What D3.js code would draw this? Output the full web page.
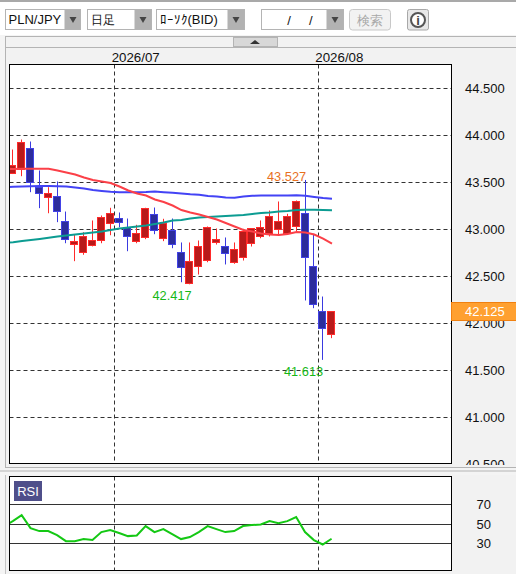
<!DOCTYPE html>
<html><head><meta charset="utf-8">
<script src="https://cdn.jsdelivr.net/npm/d3@7"></script>
<style>html,body{margin:0;padding:0;background:#fff;overflow:hidden}svg{display:block}text{font-family:"Liberation Sans",Arial,sans-serif;white-space:pre}</style>
</head><body><div id="c"></div>
<script>
const pairLabel="PLN/JPY", periodLabel="日足", priceLabel="ﾛｰｿｸ(BID)", dateLabel="/     /", searchLabel="検索";
const monthLabels=["2026/07","2026/08"];
const monthBreaks=[11.5,34.5];
const priceTicks=[44.5,44,43.5,43,42.5,42,41.5,41,40.5];
const rsiTicks=[70,50,30];
const opens =[43.60,43.638,43.859,43.45,43.333,43.351,43.085,42.844,42.748,42.822,42.876,43.056,43.114,43.024,42.869,42.907,43.156,42.907,42.989,42.752,42.417,42.603,42.667,42.854,42.816,42.646,42.699,42.848,42.922,42.957,42.997,42.957,43.029,43.167,42.603,42.124,41.88];
const highs =[43.851,43.957,43.936,43.628,43.45,43.511,43.191,42.947,42.971,43.096,43.149,43.231,43.181,43.117,43.05,43.231,43.234,43.114,43.117,42.862,42.862,42.883,43.032,43.011,42.915,42.862,43.007,43.01,43.096,43.202,43.298,43.167,43.309,43.527,42.954,42.287,42.128];
const lows  =[43.59,43.567,43.397,43.227,43.173,43.078,42.854,42.663,42.731,42.82,42.854,42.939,43.024,42.769,42.854,42.897,42.95,42.876,42.801,42.439,42.417,42.521,42.652,42.84,42.628,42.635,42.67,42.819,42.907,42.926,42.936,42.947,42.979,42.245,42.163,41.613,41.844];
const closes=[43.681,43.922,43.497,43.386,43.38,43.195,42.897,42.872,42.922,42.88,43.124,43.167,43.067,42.929,42.954,43.22,42.986,43.064,42.835,42.588,42.656,42.816,43.018,42.89,42.737,42.784,42.976,43.007,43.018,43.135,43.082,43.135,43.295,42.699,42.199,41.939,42.125];
// moving averages, first value is the session before the first visible candle
const maRed=[43.646,43.644,43.646,43.646,43.646,43.646,43.628,43.606,43.585,43.553,43.527,43.511,43.495,43.457,43.415,43.383,43.362,43.319,43.293,43.255,43.207,43.181,43.160,43.133,43.106,43.069,43.032,42.995,42.979,42.957,42.947,42.941,42.952,42.973,42.968,42.947,42.904,42.851];
const maBlue=[43.452,43.454,43.457,43.460,43.463,43.463,43.460,43.457,43.447,43.436,43.420,43.410,43.401,43.397,43.397,43.397,43.399,43.404,43.397,43.390,43.383,43.374,43.369,43.356,43.351,43.340,43.337,43.351,43.359,43.362,43.362,43.362,43.362,43.365,43.359,43.346,43.335,43.327];
const maTeal=[42.859,42.865,42.878,42.888,42.899,42.912,42.926,42.936,42.947,42.957,42.968,42.979,42.995,43.011,43.021,43.032,43.043,43.059,43.074,43.096,43.101,43.117,43.128,43.133,43.138,43.144,43.149,43.154,43.165,43.176,43.181,43.191,43.197,43.207,43.210,43.210,43.207,43.205];
const rsiValues=[47.7,52.9,59.0,45.8,42.8,42.8,38.7,32.6,32.6,34.7,33.7,41.8,43.8,40.8,37.7,38.3,47.9,41.8,44.8,39.7,34.7,36.7,41.8,47.9,44.8,41.8,42.8,47.9,48.9,49.5,52.9,50.9,52.9,57.0,41.8,33.7,29.2,35.0];
const highLabel="43.527", lowLabel="41.613", swingLabel="42.417", lastLabel="42.125";
const lastPrice=42.125;

const W=516,H=574;
const svg=d3.select("#c").append("svg").attr("width",W).attr("height",H);
const rect=(x,y,w,h,fill,stroke,rx)=>svg.append("rect").attr("x",x).attr("y",y).attr("width",w).attr("height",h).attr("fill",fill||"none").attr("stroke",stroke||"none").attr("rx",rx||0);
const label=(x,y,t,o={})=>svg.append("text").attr("x",x).attr("y",y).attr("dy","0.36em").attr("font-size",o.size||13).attr("fill",o.fill||"#111").attr("text-anchor",o.anchor||"start").attr("font-family",o.family||null).attr("font-weight",o.weight||null).text(t);

// window chrome
rect(0,0,W,H,"#f4f4f4");
rect(0,0,W,2,"#a9a9a9");
rect(0,2,W,33,"#ffffff");
const combo=(x,w,bx,text,family,size)=>{
  rect(x+.5,9.5,w,20,"#fff","#b4b4b4");
  rect(bx+.5,10,x+w-bx-.5,19.5,"#b2b2b2");
  svg.append("path").attr("d",d3.line()([[bx+5.5,17],[bx+12.5,17],[bx+9,23]])+"Z").attr("fill","#444");
  if(text)label(x+3.5,19.7,text,{family,size:size||13});
};
combo(5,75,64,pairLabel);
combo(87,64,134,periodLabel,"Noto Sans CJK JP",12);
combo(156,88,227,priceLabel,"Noto Sans CJK JP",13);
combo(261,82,326,null);
label(300,20,dateLabel,{size:13,anchor:"middle"});
rect(349.5,9.5,41,20.5,"#f2f2f2","#c8c8c8",3);
label(370,20,searchLabel,{anchor:"middle",fill:"#a8a8a8",family:"Noto Sans CJK JP",size:12.5});
rect(407.5,9.5,21,20.5,"#e8e8e8","#a8a8a8",2);
svg.append("circle").attr("cx",418).attr("cy",20).attr("r",7).attr("fill","#fff").attr("stroke","#555").attr("stroke-width",2);
label(418,20,"i",{anchor:"middle",weight:"bold",fill:"#444",size:13});
rect(5.5,36.5,W,11,"#f2f2f2","#b4b4b4");
rect(233.5,37.5,44,9,"#d8d8d8","#b4b4b4");
svg.append("path").attr("d",d3.line()([[250,44],[260,44],[255,40]])+"Z").attr("fill","#333");
rect(5.5,47.5,W,420,"#f2f2f2","#b4b4b4");
rect(0,470.5,W,1,"#b4b4b4");
rect(5.5,475,W,100,"#f2f2f2");
rect(5,475,1,99,"#c4c4c4");

// scales
const x=d3.scaleLinear().domain([0,36]).range([12.3,331.08]);
const y=d3.scaleLinear().domain([40.5,44.5]).range([464.5,88.5]);
const yR=d3.scaleLinear().domain([30,70]).range([543.7,504.3]);
const L=9.5,R=451.5,T=64.5,B=463.5,RT=476.5,RB=570.5;
const cell=v=>Math.round(v)+.5;

svg.append("defs").append("clipPath").attr("id","pc").append("rect").attr("x",L).attr("y",T).attr("width",R-L).attr("height",B-T);
svg.select("defs").append("clipPath").attr("id","rc").append("rect").attr("x",L).attr("y",RT).attr("width",R-L).attr("height",RB-RT);
svg.select("defs").append("clipPath").attr("id","tc").append("rect").attr("x",452).attr("y",48).attr("width",64).attr("height",417);

rect(L,T,R-L,B-T,"#fff");
rect(L,RT,R-L,RB-RT,"#fff");

// price axis labels
const pa=svg.append("g").attr("clip-path","url(#tc)").append("g").attr("transform",`translate(${R},0)`)
  .call(d3.axisRight(y).tickValues(priceTicks).tickSize(0).tickPadding(13.5).tickFormat(d3.format(".3f")));
pa.select(".domain").remove();
pa.selectAll("text").attr("font-size",13).attr("font-family",null).attr("fill","#111");

const plot=svg.append("g").attr("clip-path","url(#pc)");
plot.selectAll("line.g").data(priceTicks).join("line").attr("x1",L).attr("x2",R).attr("y1",d=>cell(y(d)-.5)).attr("y2",d=>cell(y(d)-.5)).attr("stroke","#333").attr("stroke-dasharray","4,3");
plot.selectAll("line.m").data(monthBreaks).join("line").attr("class","m").attr("x1",d=>cell(x(d))).attr("x2",d=>cell(x(d))).attr("y1",T).attr("y2",B).attr("stroke","#333").attr("stroke-dasharray","4,3");

// candles
const idx=d3.range(opens.length);
const up=i=>closes[i]>=opens[i];
plot.selectAll("line.w").data(idx).join("line").attr("class","w").attr("x1",i=>cell(x(i))).attr("x2",i=>cell(x(i)))
  .attr("y1",i=>y(highs[i])).attr("y2",i=>y(lows[i])).attr("stroke",i=>up(i)?"#ff2a2a":"#3a3ae0");
plot.selectAll("rect.b").data(idx).join("rect").attr("class","b").attr("x",i=>cell(x(i))-4).attr("width",7)
  .attr("y",i=>cell(y(Math.max(opens[i],closes[i]))-.5))
  .attr("height",i=>Math.max(1,Math.round(Math.abs(y(opens[i])-y(closes[i])))))
  .attr("fill",i=>up(i)?"#b81a1a":"#2c2c9c").attr("stroke",i=>up(i)?"#ff2a2a":"#4242e6");

// moving averages
const maLine=d3.line().x((d,i)=>x(i-1)+.9).y(d=>y(d));
[[maTeal,"#0c9c92"],[maBlue,"#4343f5"],[maRed,"#fb4048"]].forEach(([a,c])=>{
  plot.append("path").attr("d",maLine(a)).attr("fill","none").attr("stroke",c).attr("stroke-width",2);
});

// high/low labels
label(267,176,highLabel,{fill:"#e8701e",size:12.8});
label(152.5,295.5,swingLabel,{fill:"#16b816",size:12.8});
label(284,371,lowLabel,{fill:"#16b816",size:12.8});

// frame + month labels
rect(L,T,R-L,B-T,null,"#000");
monthBreaks.forEach((b,i)=>label(x(b)-2.5,57.5,monthLabels[i],{size:13.3}));

// last price flag
rect(451.5,302.5,65,18,"#ffa030","#f08010");
label(465,y(lastPrice)-.3,lastLabel,{fill:"#fff",size:13});

// RSI panel
const rp=svg.append("g").attr("clip-path","url(#rc)");
rp.selectAll("line.r").data(rsiTicks).join("line").attr("class","r").attr("x1",L).attr("x2",R).attr("y1",d=>cell(yR(d)-.5)).attr("y2",d=>cell(yR(d)-.5)).attr("stroke","#333");
rp.selectAll("line.rm").data(monthBreaks).join("line").attr("class","rm").attr("x1",d=>cell(x(d))).attr("x2",d=>cell(x(d))).attr("y1",RT).attr("y2",RB).attr("stroke","#333").attr("stroke-dasharray","4,3");
rp.append("path").attr("d",d3.line().x((d,i)=>x(i-1)+.5).y(d=>yR(d))(rsiValues)).attr("fill","none").attr("stroke","#14c814").attr("stroke-width",2);
rect(14,481,28,20,"#4f4f8a");
label(28,491,"RSI",{anchor:"middle",fill:"#fff",size:13});
rect(L,RT,R-L,RB-RT,null,"#000");
const ra=svg.append("g").attr("transform",`translate(${R},0)`).call(d3.axisRight(yR).tickValues(rsiTicks).tickSize(0).tickPadding(25).tickFormat(d3.format("d")));
ra.select(".domain").remove();
ra.selectAll("text").attr("font-size",13).attr("font-family",null).attr("fill","#111");
</script></body></html>
